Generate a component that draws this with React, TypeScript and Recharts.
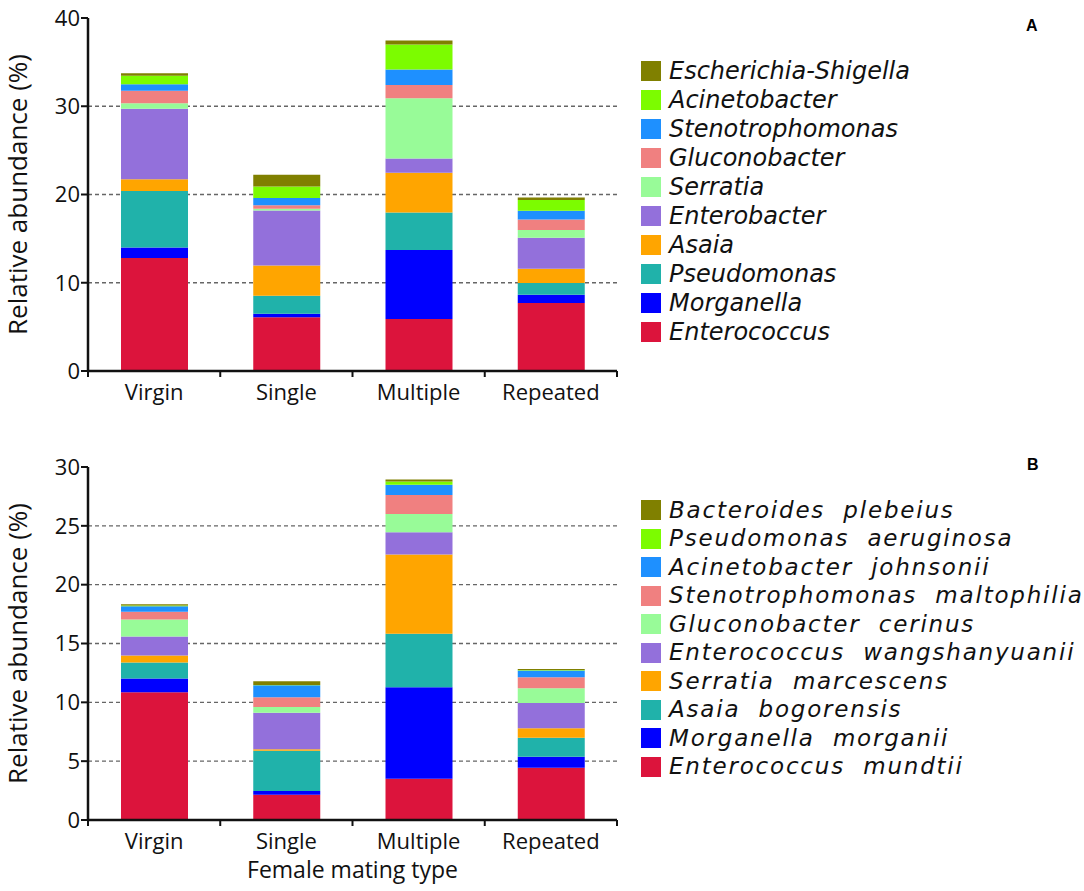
import React from "react";
import {
  BarChart,
  Bar,
  XAxis,
  YAxis,
  CartesianGrid,
} from "recharts";

const categories = ["Virgin", "Single", "Multiple", "Repeated"];

// panel A, genus level (bottom to top)
const genusNames = [
  "Enterococcus",
  "Morganella",
  "Pseudomonas",
  "Asaia",
  "Enterobacter",
  "Serratia",
  "Gluconobacter",
  "Stenotrophomonas",
  "Acinetobacter",
  "Escherichia-Shigella",
];
const enterococcus = [12.8, 6.1, 5.9, 7.7];
const morganella = [1.2, 0.38, 7.8, 0.94];
const pseudomonas = [6.4, 2.04, 4.27, 1.33];
const asaia = [1.33, 3.43, 4.49, 1.62];
const enterobacter = [8.0, 6.24, 1.63, 3.51];
const serratia = [0.6, 0.19, 6.83, 0.87];
const gluconobacter = [1.43, 0.41, 1.48, 1.21];
const stenotrophomonas = [0.72, 0.8, 1.77, 0.98];
const acinetobacter = [0.98, 1.31, 2.84, 1.21];
const escherichia = [0.27, 1.33, 0.45, 0.3];

// panel B, species level (bottom to top)
const speciesNames = [
  "Enterococcus  mundtii",
  "Morganella  morganii",
  "Asaia  bogorensis",
  "Serratia  marcescens",
  "Enterococcus  wangshanyuanii",
  "Gluconobacter  cerinus",
  "Stenotrophomonas  maltophilia",
  "Acinetobacter  johnsonii",
  "Pseudomonas  aeruginosa",
  "Bacteroides  plebeius",
];
const eMundtii = [10.86, 2.15, 3.51, 4.45];
const mMorganii = [1.16, 0.32, 7.77, 0.93];
const aBogorensis = [1.36, 3.42, 4.54, 1.62];
const sMarcescens = [0.59, 0.12, 6.74, 0.8];
const eWangshanyuanii = [1.62, 3.11, 1.9, 2.15];
const gCerinus = [1.44, 0.49, 1.54, 1.25];
const sMaltophilia = [0.66, 0.82, 1.63, 0.93];
const aJohnsonii = [0.48, 1.02, 0.86, 0.57];
const pAeruginosa = [0.05, 0.03, 0.28, 0.05];
const bPlebeius = [0.12, 0.31, 0.17, 0.09];

const colors = [
  "#DC143C",
  "#0000FF",
  "#20B2AA",
  "#FFA500",
  "#9370DB",
  "#98FB98",
  "#F08080",
  "#1E90FF",
  "#7CFC00",
  "#808000",
];

const ticksA = [0, 10, 20, 30, 40];
const gridA = [10, 20, 30];
const ticksB = [0, 5, 10, 15, 20, 25, 30];
const gridB = [5, 10, 15, 20, 25];

const FONT = "'Open Sans', sans-serif";
const CHART_W = 625;
const PLOT_LEFT = 88;
const MARGIN_RIGHT = 8;

interface PanelProps {
  names: string[];
  values: number[][];
  ticks: number[];
  grid: number[];
  height: number;
  top: number;
  marginTop: number;
  xAxisHeight: number;
  xLabel?: string;
}

function Panel({ names, values, ticks, grid, height, top, marginTop, xAxisHeight, xLabel }: PanelProps) {
  const data = categories.map((c, i) => {
    const row: Record<string, string | number> = { type: c };
    names.forEach((n, k) => {
      row[n] = values[k][i];
    });
    return row;
  });
  const halfBand = (CHART_W - PLOT_LEFT - MARGIN_RIGHT) / categories.length / 2;
  const yMin = ticks[0];
  const yMax = ticks[ticks.length - 1];

  const renderTick = (props: any) => {
    const { x, y, payload, index } = props;
    const axisY = y - 8;
    return (
      <g>
        <text x={x} y={axisY + 29} textAnchor="middle" fontSize={22} fontFamily={FONT} fill="#111">
          {payload.value}
        </text>
        <line x1={x + halfBand} x2={x + halfBand} y1={axisY} y2={axisY + 6} stroke="#111" strokeWidth={2} />
        {index === 0 && (
          <line x1={x - halfBand} x2={x - halfBand} y1={axisY} y2={axisY + 6} stroke="#111" strokeWidth={2} />
        )}
      </g>
    );
  };

  const gridGen = (props: any) => {
    const yAxis = props.yAxis;
    if (yAxis && typeof yAxis.scale === "function") return grid.map((v) => yAxis.scale(v));
    const off = props.offset;
    return grid.map((v) => off.top + off.height * (1 - (v - yMin) / (yMax - yMin)));
  };

  return (
    <div style={{ position: "absolute", left: 0, top }}>
      <BarChart
        width={CHART_W}
        height={height}
        data={data}
        margin={{ top: marginTop, right: MARGIN_RIGHT, left: 0, bottom: 0 }}
        barSize={67}
      >
        <CartesianGrid
          vertical={false}
          stroke="#666"
          strokeWidth={1.3}
          strokeDasharray="4 3"
          horizontalCoordinatesGenerator={gridGen}
        />
        <XAxis
          dataKey="type"
          height={xAxisHeight}
          axisLine={{ stroke: "#111", strokeWidth: 2.5 }}
          tickLine={false}
          tickSize={0}
          tickMargin={8}
          interval={0}
          tick={renderTick}
          label={
            xLabel
              ? {
                  content: ({ viewBox }: any) => (
                    <text
                      x={viewBox.x + viewBox.width / 2}
                      y={viewBox.y + 58}
                      textAnchor="middle"
                      fontSize={23}
                      fontFamily={FONT}
                      fill="#111"
                    >
                      {xLabel}
                    </text>
                  ),
                }
              : undefined
          }
        />
        <YAxis
          width={PLOT_LEFT}
          domain={[yMin, yMax]}
          ticks={ticks}
          interval={0}
          axisLine={{ stroke: "#111", strokeWidth: 2.5 }}
          tickLine={{ stroke: "#111", strokeWidth: 2 }}
          tickSize={7}
          tickMargin={1}
          tick={{ fontSize: 22, fontFamily: FONT, fill: "#111" }}
          label={{
            content: ({ viewBox }: any) => {
              const cx = 17;
              const cy = viewBox.y + viewBox.height / 2;
              return (
                <text
                  x={cx}
                  y={cy}
                  transform={`rotate(-90, ${cx}, ${cy})`}
                  textAnchor="middle"
                  dominantBaseline="central"
                  fontSize={26}
                  fontFamily={FONT}
                  fill="#111"
                >
                  Relative abundance (%)
                </text>
              );
            },
          }}
        />
        {names.map((n, k) => (
          <Bar key={n} dataKey={n} stackId="s" fill={colors[k]} isAnimationActive={false} />
        ))}
      </BarChart>
    </div>
  );
}

function LegendBlock({
  names,
  top,
  rowGap,
  fontSize,
  letterSpacing,
}: {
  names: string[];
  top: number;
  rowGap: number;
  fontSize: number;
  letterSpacing: number;
}) {
  const items = names.map((n, k) => ({ n, c: colors[k] })).reverse();
  return (
    <div style={{ position: "absolute", left: 641, top }}>
      {items.map((it) => (
        <div
          key={it.n}
          style={{ display: "flex", alignItems: "center", height: rowGap }}
        >
          <div style={{ width: 20, height: 20, background: it.c, flex: "none" }} />
          <span
            style={{
              marginLeft: 8,
              fontFamily: "'DejaVu Sans', sans-serif",
              fontStyle: "italic",
              fontSize,
              letterSpacing,
              whiteSpace: "pre",
              color: "#111",
              lineHeight: 1,
            }}
          >
            {it.n}
          </span>
        </div>
      ))}
    </div>
  );
}

export default function App() {
  const valuesA = [
    enterococcus,
    morganella,
    pseudomonas,
    asaia,
    enterobacter,
    serratia,
    gluconobacter,
    stenotrophomonas,
    acinetobacter,
    escherichia,
  ];
  const valuesB = [
    eMundtii,
    mMorganii,
    aBogorensis,
    sMarcescens,
    eWangshanyuanii,
    gCerinus,
    sMaltophilia,
    aJohnsonii,
    pAeruginosa,
    bPlebeius,
  ];
  return (
    <div
      style={{
        position: "absolute",
        left: 0,
        top: 0,
        width: 1084,
        height: 891,
        background: "#fff",
        overflow: "hidden",
      }}
    >
      <Panel names={genusNames} values={valuesA} ticks={ticksA} grid={gridA} height={410} top={0} marginTop={18} xAxisHeight={39} />
      <Panel
        names={speciesNames}
        values={valuesB}
        ticks={ticksB}
        grid={gridB}
        height={451}
        top={440}
        marginTop={27}
        xAxisHeight={71}
        xLabel="Female mating type"
      />
      <LegendBlock names={genusNames} top={56} rowGap={29} fontSize={24} letterSpacing={0} />
      <LegendBlock names={speciesNames} top={496} rowGap={28.5} fontSize={23} letterSpacing={1.8} />
      <div style={{ position: "absolute", left: 1026, top: 17, fontFamily: "Arial, 'Liberation Sans', sans-serif", fontWeight: "bold", fontSize: 16 }}>
        A
      </div>
      <div style={{ position: "absolute", left: 1027, top: 456, fontFamily: "Arial, 'Liberation Sans', sans-serif", fontWeight: "bold", fontSize: 16 }}>
        B
      </div>
    </div>
  );
}
